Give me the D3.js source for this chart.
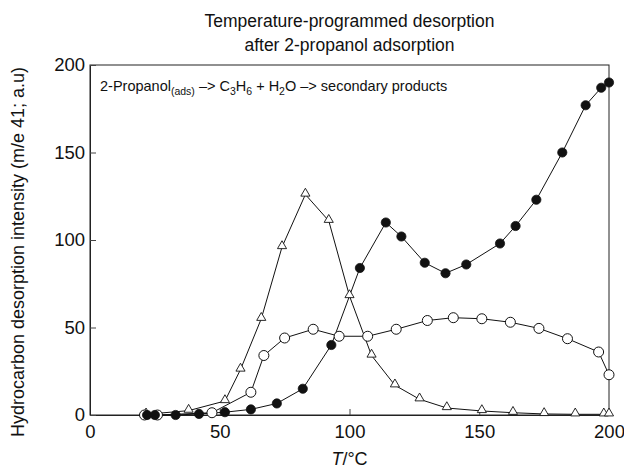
<!doctype html>
<html>
<head>
<meta charset="utf-8">
<title>TPD</title>
<script src="https://cdn.jsdelivr.net/npm/d3@7"></script>
<style>
body { margin: 0; background: #fff; }
text { font-family: "Liberation Sans", Arial, sans-serif; fill: #111; }
</style>
</head>
<body>
<svg width="624" height="468"></svg>
<script>
// filled circles
var filledT = [22, 25, 33, 42, 52, 62, 72, 82, 93, 104, 114, 120, 129, 137, 145, 158, 164, 172, 182, 191, 197, 200];
var filledV = [0, 0, 0, 0.6, 1.6, 3.2, 6.6, 15, 40, 84, 110, 102, 87, 81, 86, 98, 108, 123, 150, 177, 187, 190];
// open circles
var openT = [21, 26, 47, 62, 67, 75, 86, 96, 107, 118, 130, 140, 151, 162, 173, 184, 196, 200];
var openV = [0, 0, 1.3, 13, 34, 44, 49, 45, 45, 49, 54, 55.6, 55, 53, 49.5, 43.6, 36, 23];
// triangles
var triT = [21.6, 38, 52, 58, 66, 74, 83, 92, 100, 108.5, 117.5, 127, 137.5, 151, 163, 175, 187, 198, 200];
var triV = [0.4, 2.5, 8, 26, 55, 96, 126, 111, 68, 34, 17, 9, 4, 2.3, 1.3, 0.6, 0.4, 0.4, 0.4];

var xTicks = [0, 50, 100, 150, 200];
var yTicks = [0, 50, 100, 150, 200];

var svg = d3.select("svg"),
    margin = { top: 65, right: 15, bottom: 53, left: 90 },
    width = 624 - margin.left - margin.right,
    height = 468 - margin.top - margin.bottom,
    g = svg.append("g").attr("transform", "translate(" + margin.left + "," + margin.top + ")");

var x = d3.scaleLinear().domain([0, 200]).range([0, width]);
var y = d3.scaleLinear().domain([0, 200]).range([height, 0]);

// frame
g.append("rect").attr("width", width).attr("height", height)
    .attr("fill", "none").attr("stroke", "#222").attr("stroke-width", 1);

var xa = g.append("g").attr("transform", "translate(0," + height + ")")
    .call(d3.axisBottom(x).tickValues(xTicks).tickSizeInner(-6).tickSizeOuter(0).tickPadding(10));
var ya = g.append("g")
    .call(d3.axisLeft(y).tickValues(yTicks).tickSizeInner(-6).tickSizeOuter(0).tickPadding(5));
[xa, ya].forEach(function(a) {
    a.select(".domain").attr("stroke", "#222");
    a.selectAll("text").style("font-size", "18.5px").attr("fill", "#111")
        .style("font-family", "'Liberation Sans', Arial, sans-serif");
    a.selectAll(".tick line").attr("stroke", "#444");
});

var line = d3.line().x(function(d) { return x(d[0]); }).y(function(d) { return y(d[1]); });
function pts(t, v) { return t.map(function(d, i) { return [d, v[i]]; }); }

var tri = pts(triT, triV), open = pts(openT, openV), filled = pts(filledT, filledV);

[tri, open, filled].forEach(function(s) {
    g.append("path").datum(s).attr("d", line)
        .attr("fill", "none").attr("stroke", "#111").attr("stroke-width", 1);
});

var triSym = d3.symbol().type(d3.symbolTriangle).size(36);
g.selectAll(".tri").data(tri).enter().append("path")
    .attr("transform", function(d) { return "translate(" + x(d[0]) + "," + (y(d[1]) - 1) + ")"; })
    .attr("d", triSym).attr("fill", "#fff").attr("stroke", "#111").attr("stroke-width", 0.9);

g.selectAll(".open").data(open).enter().append("circle")
    .attr("cx", function(d) { return x(d[0]); }).attr("cy", function(d) { return y(d[1]); })
    .attr("r", 5).attr("fill", "#fff").attr("stroke", "#111").attr("stroke-width", 1);

g.selectAll(".filled").data(filled).enter().append("circle")
    .attr("cx", function(d) { return x(d[0]); }).attr("cy", function(d) { return y(d[1]); })
    .attr("r", 4.6).attr("fill", "#111").attr("stroke", "#111").attr("stroke-width", 0.8);

// title
var title = svg.append("text").attr("text-anchor", "middle").style("font-size", "17.5px");
title.append("tspan").attr("x", margin.left + width / 2).attr("y", 27).text("Temperature-programmed desorption");
title.append("tspan").attr("x", margin.left + width / 2).attr("y", 51).text("after 2-propanol adsorption");

// annotation
var ann = g.append("text").attr("x", 10).attr("y", 26).style("font-size", "14.5px");
ann.append("tspan").text("2-Propanol");
ann.append("tspan").attr("dy", 4).style("font-size", "10.5px").text("(ads)");
ann.append("tspan").attr("dy", -4).text(" \u2013> C");
ann.append("tspan").attr("dy", 4).style("font-size", "10.5px").text("3");
ann.append("tspan").attr("dy", -4).text("H");
ann.append("tspan").attr("dy", 4).style("font-size", "10.5px").text("6");
ann.append("tspan").attr("dy", -4).text(" + H");
ann.append("tspan").attr("dy", 4).style("font-size", "10.5px").text("2");
ann.append("tspan").attr("dy", -4).text("O \u2013> secondary products");

// axis labels
var xl = svg.append("text").attr("text-anchor", "middle")
    .attr("x", margin.left + width / 2).attr("y", 465).style("font-size", "18px");
xl.append("tspan").style("font-style", "italic").text("T");
xl.append("tspan").text("/\u00b0C");

svg.append("text").attr("text-anchor", "middle")
    .attr("transform", "translate(24,252) rotate(-90)")
    .style("font-size", "18px")
    .text("Hydrocarbon desorption intensity (m/e 41; a.u)");
</script>
</body>
</html>
